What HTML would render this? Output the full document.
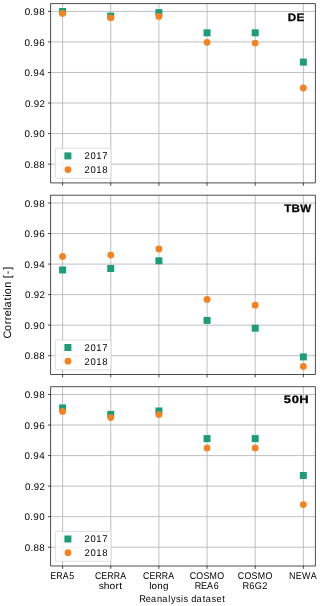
<!DOCTYPE html><html><head><meta charset="utf-8"><style>html,body{margin:0;padding:0;background:#fff;}svg{display:block;will-change:transform;}text{font-family:"Liberation Sans", sans-serif;text-rendering:geometricPrecision;}</style></head><body>
<svg width="320" height="606" viewBox="0 0 320 606">
<rect width="320" height="606" fill="#fff"/>
<path d="M62.60 3.60V182.90M110.75 3.60V182.90M158.90 3.60V182.90M207.05 3.60V182.90M255.20 3.60V182.90M303.35 3.60V182.90M50.60 11.40H315.40M50.60 41.94H315.40M50.60 72.48H315.40M50.60 103.02H315.40M50.60 133.56H315.40M50.60 164.10H315.40" stroke="#b0b0b0" stroke-width="0.8" fill="none"/>
<rect x="59.10" y="8.00" width="7.00" height="7.00" fill="#1b9e77"/>
<rect x="107.25" y="12.60" width="7.00" height="7.00" fill="#1b9e77"/>
<rect x="155.40" y="9.10" width="7.00" height="7.00" fill="#1b9e77"/>
<rect x="203.55" y="29.30" width="7.00" height="7.00" fill="#1b9e77"/>
<rect x="251.70" y="29.30" width="7.00" height="7.00" fill="#1b9e77"/>
<rect x="299.85" y="58.60" width="7.00" height="7.00" fill="#1b9e77"/>
<circle cx="62.60" cy="13.40" r="3.40" fill="#f5821f"/>
<circle cx="110.75" cy="17.80" r="3.40" fill="#f5821f"/>
<circle cx="158.90" cy="16.40" r="3.40" fill="#f5821f"/>
<circle cx="207.05" cy="42.30" r="3.40" fill="#f5821f"/>
<circle cx="255.20" cy="43.10" r="3.40" fill="#f5821f"/>
<circle cx="303.35" cy="88.00" r="3.40" fill="#f5821f"/>
<rect x="55.3" y="148.30" width="55.8" height="29.9" rx="1.6" fill="#fff" fill-opacity="0.8" stroke="#d6d6d6" stroke-width="0.8"/>
<rect x="64.40" y="152.40" width="7.00" height="7.00" fill="#1b9e77"/>
<circle cx="68.0" cy="169.60" r="3.40" fill="#f5821f"/>
<text transform="translate(84.50 159.30) scale(0.9695 1)" x="0.00 6.16 12.15 18.22" y="0" font-size="9.75">2017</text>
<text transform="translate(84.48 173.20) scale(0.9778 1)" x="0.00 6.11 12.05 18.08" y="0" font-size="9.75">2018</text>
<path d="M50.60 3.60V182.90M315.40 3.60V182.90M50.60 3.60H315.40M50.60 182.90H315.40" fill="none" stroke="#000" stroke-width="0.7"/>
<path d="M47.90 11.40H50.60M47.90 41.94H50.60M47.90 72.48H50.60M47.90 103.02H50.60M47.90 133.56H50.60M47.90 164.10H50.60M62.60 182.90V185.80M110.75 182.90V185.80M158.90 182.90V185.80M207.05 182.90V185.80M255.20 182.90V185.80M303.35 182.90V185.80" stroke="#000" stroke-width="0.7" fill="none"/>
<text transform="translate(24.63 15.10) scale(1.0095 1)" x="0.00 5.70 8.67 14.49" y="0" font-size="9.75">0.98</text>
<text transform="translate(24.56 45.64) scale(1.0170 1)" x="0.00 5.67 8.60 14.39" y="0" font-size="9.75">0.96</text>
<text transform="translate(24.53 76.18) scale(1.0060 1)" x="0.00 5.72 8.70 14.54" y="0" font-size="9.75">0.94</text>
<text transform="translate(24.96 106.72) scale(0.9953 1)" x="0.00 5.76 8.79 14.58" y="0" font-size="9.75">0.92</text>
<text transform="translate(24.62 137.26) scale(1.0061 1)" x="0.00 5.72 8.70 14.54" y="0" font-size="9.75">0.90</text>
<text transform="translate(24.65 167.80) scale(1.0028 1)" x="0.00 5.73 8.75 14.59" y="0" font-size="9.75">0.88</text>
<text transform="translate(287.74 20.80) scale(1.0833 1)" x="0.00 8.15" y="0" font-size="10.81" font-weight="bold" stroke="#000" stroke-width="0.25">DE</text>
<path d="M62.60 195.20V374.50M110.75 195.20V374.50M158.90 195.20V374.50M207.05 195.20V374.50M255.20 195.20V374.50M303.35 195.20V374.50M50.60 203.00H315.40M50.60 233.54H315.40M50.60 264.08H315.40M50.60 294.62H315.40M50.60 325.16H315.40M50.60 355.70H315.40" stroke="#b0b0b0" stroke-width="0.8" fill="none"/>
<rect x="59.10" y="266.45" width="7.00" height="7.00" fill="#1b9e77"/>
<rect x="107.25" y="265.00" width="7.00" height="7.00" fill="#1b9e77"/>
<rect x="155.40" y="257.30" width="7.00" height="7.00" fill="#1b9e77"/>
<rect x="203.55" y="316.90" width="7.00" height="7.00" fill="#1b9e77"/>
<rect x="251.70" y="324.70" width="7.00" height="7.00" fill="#1b9e77"/>
<rect x="299.85" y="353.40" width="7.00" height="7.00" fill="#1b9e77"/>
<circle cx="62.60" cy="256.40" r="3.40" fill="#f5821f"/>
<circle cx="110.75" cy="255.05" r="3.40" fill="#f5821f"/>
<circle cx="158.90" cy="248.90" r="3.40" fill="#f5821f"/>
<circle cx="207.05" cy="299.40" r="3.40" fill="#f5821f"/>
<circle cx="255.20" cy="305.20" r="3.40" fill="#f5821f"/>
<circle cx="303.35" cy="366.40" r="3.40" fill="#f5821f"/>
<rect x="55.3" y="339.90" width="55.8" height="29.9" rx="1.6" fill="#fff" fill-opacity="0.8" stroke="#d6d6d6" stroke-width="0.8"/>
<rect x="64.40" y="344.00" width="7.00" height="7.00" fill="#1b9e77"/>
<circle cx="68.0" cy="361.20" r="3.40" fill="#f5821f"/>
<text transform="translate(84.50 350.90) scale(0.9695 1)" x="0.00 6.16 12.15 18.22" y="0" font-size="9.75">2017</text>
<text transform="translate(84.48 364.80) scale(0.9778 1)" x="0.00 6.11 12.05 18.08" y="0" font-size="9.75">2018</text>
<path d="M50.60 195.20V374.50M315.40 195.20V374.50M50.60 195.20H315.40M50.60 374.50H315.40" fill="none" stroke="#000" stroke-width="0.7"/>
<path d="M47.90 203.00H50.60M47.90 233.54H50.60M47.90 264.08H50.60M47.90 294.62H50.60M47.90 325.16H50.60M47.90 355.70H50.60M62.60 374.50V377.40M110.75 374.50V377.40M158.90 374.50V377.40M207.05 374.50V377.40M255.20 374.50V377.40M303.35 374.50V377.40" stroke="#000" stroke-width="0.7" fill="none"/>
<text transform="translate(24.63 206.70) scale(1.0095 1)" x="0.00 5.70 8.67 14.49" y="0" font-size="9.75">0.98</text>
<text transform="translate(24.56 237.24) scale(1.0170 1)" x="0.00 5.67 8.60 14.39" y="0" font-size="9.75">0.96</text>
<text transform="translate(24.53 267.78) scale(1.0060 1)" x="0.00 5.72 8.70 14.54" y="0" font-size="9.75">0.94</text>
<text transform="translate(24.96 298.32) scale(0.9953 1)" x="0.00 5.76 8.79 14.58" y="0" font-size="9.75">0.92</text>
<text transform="translate(24.62 328.86) scale(1.0061 1)" x="0.00 5.72 8.70 14.54" y="0" font-size="9.75">0.90</text>
<text transform="translate(24.65 359.40) scale(1.0028 1)" x="0.00 5.73 8.75 14.59" y="0" font-size="9.75">0.88</text>
<text transform="translate(284.36 212.20) scale(1.0710 1)" x="0.00 6.62 14.75" y="0" font-size="10.81" font-weight="bold" stroke="#000" stroke-width="0.25">TBW</text>
<path d="M62.60 386.70V566.00M110.75 386.70V566.00M158.90 386.70V566.00M207.05 386.70V566.00M255.20 386.70V566.00M303.35 386.70V566.00M50.60 394.50H315.40M50.60 425.04H315.40M50.60 455.58H315.40M50.60 486.12H315.40M50.60 516.66H315.40M50.60 547.20H315.40" stroke="#b0b0b0" stroke-width="0.8" fill="none"/>
<rect x="59.10" y="404.40" width="7.00" height="7.00" fill="#1b9e77"/>
<rect x="107.25" y="410.90" width="7.00" height="7.00" fill="#1b9e77"/>
<rect x="155.40" y="407.50" width="7.00" height="7.00" fill="#1b9e77"/>
<rect x="203.55" y="435.10" width="7.00" height="7.00" fill="#1b9e77"/>
<rect x="251.70" y="435.10" width="7.00" height="7.00" fill="#1b9e77"/>
<rect x="299.85" y="471.95" width="7.00" height="7.00" fill="#1b9e77"/>
<circle cx="62.60" cy="411.40" r="3.40" fill="#f5821f"/>
<circle cx="110.75" cy="417.55" r="3.40" fill="#f5821f"/>
<circle cx="158.90" cy="414.60" r="3.40" fill="#f5821f"/>
<circle cx="207.05" cy="448.10" r="3.40" fill="#f5821f"/>
<circle cx="255.20" cy="448.10" r="3.40" fill="#f5821f"/>
<circle cx="303.35" cy="504.55" r="3.40" fill="#f5821f"/>
<rect x="55.3" y="531.40" width="55.8" height="29.9" rx="1.6" fill="#fff" fill-opacity="0.8" stroke="#d6d6d6" stroke-width="0.8"/>
<rect x="64.40" y="535.50" width="7.00" height="7.00" fill="#1b9e77"/>
<circle cx="68.0" cy="552.70" r="3.40" fill="#f5821f"/>
<text transform="translate(84.50 542.40) scale(0.9695 1)" x="0.00 6.16 12.15 18.22" y="0" font-size="9.75">2017</text>
<text transform="translate(84.48 556.30) scale(0.9778 1)" x="0.00 6.11 12.05 18.08" y="0" font-size="9.75">2018</text>
<path d="M50.60 386.70V566.00M315.40 386.70V566.00M50.60 386.70H315.40M50.60 566.00H315.40" fill="none" stroke="#000" stroke-width="0.7"/>
<path d="M47.90 394.50H50.60M47.90 425.04H50.60M47.90 455.58H50.60M47.90 486.12H50.60M47.90 516.66H50.60M47.90 547.20H50.60M62.60 566.00V568.90M110.75 566.00V568.90M158.90 566.00V568.90M207.05 566.00V568.90M255.20 566.00V568.90M303.35 566.00V568.90" stroke="#000" stroke-width="0.7" fill="none"/>
<text transform="translate(24.63 398.20) scale(1.0095 1)" x="0.00 5.70 8.67 14.49" y="0" font-size="9.75">0.98</text>
<text transform="translate(24.56 428.74) scale(1.0170 1)" x="0.00 5.67 8.60 14.39" y="0" font-size="9.75">0.96</text>
<text transform="translate(24.53 459.28) scale(1.0060 1)" x="0.00 5.72 8.70 14.54" y="0" font-size="9.75">0.94</text>
<text transform="translate(24.96 489.82) scale(0.9953 1)" x="0.00 5.76 8.79 14.58" y="0" font-size="9.75">0.92</text>
<text transform="translate(24.62 520.36) scale(1.0061 1)" x="0.00 5.72 8.70 14.54" y="0" font-size="9.75">0.90</text>
<text transform="translate(24.65 550.90) scale(1.0028 1)" x="0.00 5.73 8.75 14.59" y="0" font-size="9.75">0.88</text>
<text transform="translate(283.86 403.45) scale(1.2028 1)" x="0.00 6.51 12.78" y="0" font-size="10.81" font-weight="bold" stroke="#000" stroke-width="0.25">50H</text>
<text transform="translate(50.33 578.55) scale(0.9037 1)" x="0.00 6.68 13.79 21.01" y="0" font-size="9.75">ERA5</text>
<text transform="translate(94.90 578.55) scale(0.8921 1)" x="0.00 7.17 13.93 21.10 28.29" y="0" font-size="9.75">CERRA</text>
<text transform="translate(98.70 588.80) scale(1.0483 1)" x="0.00 4.73 10.20 15.93 19.54" y="0" font-size="9.75">short</text>
<text transform="translate(143.05 578.55) scale(0.8921 1)" x="0.00 7.17 13.93 21.10 28.29" y="0" font-size="9.75">CERRA</text>
<text transform="translate(149.14 588.80) scale(1.0118 1)" x="0.00 2.42 8.10 13.79" y="0" font-size="9.75">long</text>
<text transform="translate(189.68 578.55) scale(0.9069 1)" x="0.00 7.32 15.12 21.86 30.49" y="0" font-size="9.75">COSMO</text>
<text transform="translate(194.82 588.80) scale(0.9220 1)" x="0.00 6.70 13.28 20.41" y="0" font-size="9.75">REA6</text>
<text transform="translate(237.83 578.55) scale(0.9069 1)" x="0.00 7.32 15.12 21.86 30.49" y="0" font-size="9.75">COSMO</text>
<text transform="translate(242.61 588.80) scale(0.9466 1)" x="0.00 7.11 12.88 20.70" y="0" font-size="9.75">R6G2</text>
<text transform="translate(289.12 578.55) scale(0.9129 1)" x="0.00 7.21 14.04 23.82" y="0" font-size="9.75">NEWA</text>
<text transform="translate(139.20 601.95) scale(0.9434 1)" x="0.00 6.99 12.54 18.93 24.57 30.85 33.69 39.13 44.28 46.84 51.91 55.08 60.81 67.35 70.51 76.67 81.84 88.01" y="0" font-size="9.75">Reanalysis dataset</text>
<text transform="translate(10.70 302.55) rotate(-90) translate(-36.04 0) scale(1.0053 1)" x="0.00 7.60 14.19 18.36 22.19 28.50 30.83 37.79 41.52 44.23 50.57 56.88 60.07 63.98 68.49" y="0" font-size="10.81">Correlation [-]</text>
</svg></body></html>
